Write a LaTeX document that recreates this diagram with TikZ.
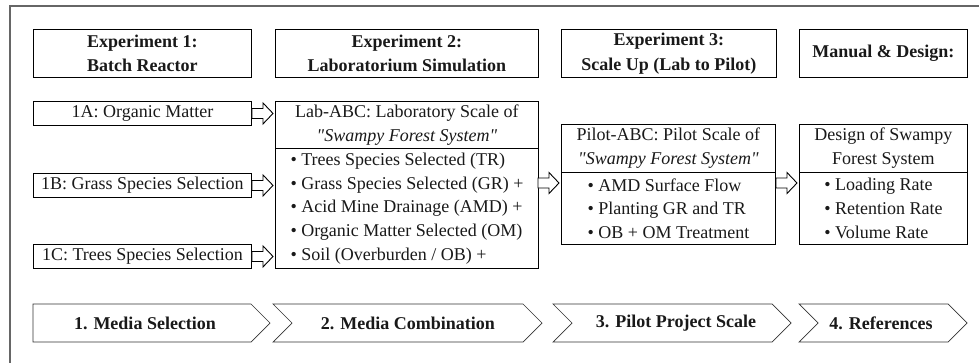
\documentclass[tikz,border=0pt]{standalone}
\usepackage{fontspec}
\setmainfont{Liberation Serif}
\usetikzlibrary{calc}
\begin{document}
\begin{tikzpicture}[x=1pt,y=-1pt,
  box/.style={draw=black, line width=0.9pt, anchor=north west, inner sep=0pt,
    align=center, text=black!90, font=\fontsize{18}{23.7}\selectfont},
  hdr/.style={box, font=\bfseries\fontsize{18}{24.5}\selectfont},
  listbox/.style={box, align=left},
  chev/.style={draw=black!80, line width=0.7pt},
  chevtext/.style={font=\bfseries\fontsize{18}{22}\selectfont, text=black!90, inner sep=0pt},
  frame/.style={draw=black!60, line width=2pt},
  hollow/.style={draw=black, line width=0.9pt, fill=white,
    to path={let \p1=(\tikztostart), \p2=(\tikztotarget) in
      (\x1,\y1+5pt) -- (\x2-12pt,\y1+5pt) -- (\x2-12pt,\y1+10.5pt) -- (\x2-2pt,\y1)
      -- (\x2-12pt,\y1-10.5pt) -- (\x2-12pt,\y1-5pt) -- (\x1,\y1-5pt) -- cycle}}
]
\useasboundingbox (0,0) rectangle (979,362);
\draw[frame] (10,364) -- (10,6) -- (981,6);

% headers
\node[hdr, minimum width=218pt, minimum height=48pt] (e1) at (33,29) {Experiment 1:\\Batch Reactor};
\node[hdr, minimum width=263pt, minimum height=48pt] (e2) at (275,29) {Experiment 2:\\Laboratorium Simulation};
\node[hdr, minimum width=215pt, minimum height=48pt] (e3) at (561,29) {Experiment 3:\\Scale Up (Lab to Pilot)};
\node[hdr, minimum width=168pt, minimum height=48pt] (e4) at (799,29) {Manual \& Design:};

% experiment 1 boxes
\node[box, minimum width=218pt, minimum height=24pt] (a1) at (33,101) {1A: Organic Matter};
\node[box, minimum width=218pt, minimum height=24pt] (a2) at (33,173) {1B: Grass Species Selection};
\node[box, minimum width=218pt, minimum height=24pt] (a3) at (33,244) {1C: Trees Species Selection};

% lab box
\node[box, minimum width=263pt, minimum height=47pt] (labh) at (275,101) {Lab-ABC: Laboratory Scale of\\\textit{\textquotedbl Swampy Forest System\textquotedbl}};
\node[listbox, minimum width=263pt, minimum height=120pt] (labb) at (275,148)
  {\textbullet\ Trees Species Selected (TR)\\
   \textbullet\ Grass Species Selected (GR) +\\
   \textbullet\ Acid Mine Drainage (AMD) +\\
   \textbullet\ Organic Matter Selected (OM)\\
   \textbullet\ Soil (Overburden / OB) +};

% pilot box
\node[box, minimum width=214pt, minimum height=48pt] (pih) at (561,124) {Pilot-ABC: Pilot Scale of\\\textit{\textquotedbl Swampy Forest System\textquotedbl}};
\node[listbox, minimum width=214pt, minimum height=72pt] (pib) at (561,172)
  {\textbullet\ AMD Surface Flow\\
   \textbullet\ Planting GR and TR\\
   \textbullet\ OB + OM Treatment};

% design box
\node[box, minimum width=168pt, minimum height=48pt] (deh) at (799,124) {Design of Swampy\\Forest System};
\node[listbox, minimum width=168pt, minimum height=72pt] (deb) at (799,172)
  {\textbullet\ Loading Rate\\
   \textbullet\ Retention Rate\\
   \textbullet\ Volume Rate};

% hollow arrows
\draw[hollow] (a1.east) to (a1.east -| labh.west);
\draw[hollow] (a2.east) to (a2.east -| labb.west);
\draw[hollow] (a3.east) to (a3.east -| labb.west);
\coordinate (m1) at (538,183);
\draw[hollow] (m1) to (m1 -| pib.west);
\coordinate (m2) at (776,183);
\draw[hollow] (m2) to (m2 -| deb.west);

% chevrons
\draw[chev] (33,304) -- (251,304) -- (270,323) -- (251,342) -- (33,342) -- cycle;
\node[chevtext] (c1) at (145,323) {1. Media Selection};
\draw[chev] (273,304) -- (523,304) -- (542,323) -- (523,342) -- (273,342) -- (292,323) -- cycle;
\node[chevtext] (c2) at (408,323) {2. Media Combination};
\draw[chev] (553,304) -- (772,304) -- (791,323) -- (772,342) -- (553,342) -- (572,323) -- cycle;
\node[chevtext] (c3) at (676,323) {3. Pilot Project Scale};
\draw[chev] (799,304) -- (948,304) -- (967,323) -- (948,342) -- (799,342) -- (818,323) -- cycle;
\node[chevtext] (c4) at (881,323) {4. References};
\end{tikzpicture}
\end{document}
